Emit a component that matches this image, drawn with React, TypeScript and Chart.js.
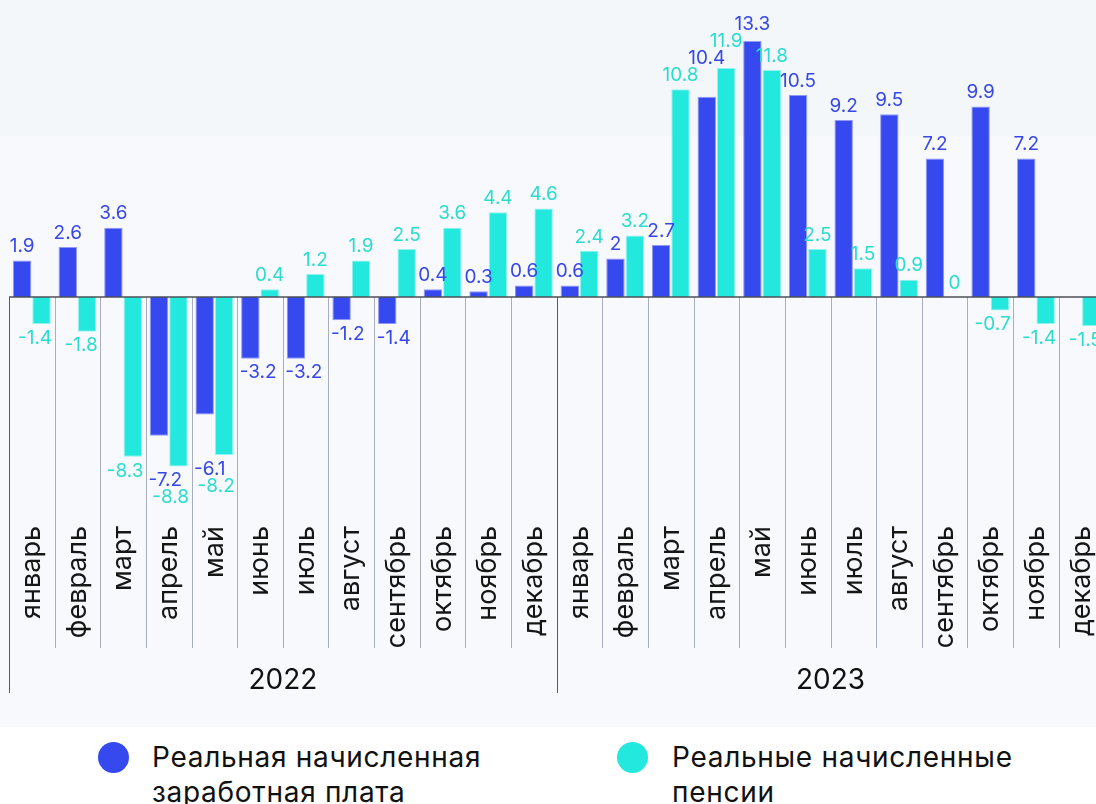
import React, { useEffect, useRef } from 'react';
import { Chart, registerables } from 'chart.js';

Chart.register(...registerables);

// ---- data ----
const months = ['январь', 'февраль', 'март', 'апрель', 'май', 'июнь', 'июль', 'август', 'сентябрь', 'октябрь', 'ноябрь', 'декабрь'];
const years = ['2022', '2023'];
const categories = [...months, ...months];
const wages: (number | null)[] = [1.9, 2.6, 3.6, -7.2, -6.1, -3.2, -3.2, -1.2, -1.4, 0.4, 0.3, 0.6, 0.6, 2, 2.7, 10.4, 13.3, 10.5, 9.2, 9.5, 7.2, 9.9, 7.2, null];
const pensions: (number | null)[] = [-1.4, -1.8, -8.3, -8.8, -8.2, 0.4, 1.2, 1.9, 2.5, 3.6, 4.4, 4.6, 2.4, 3.2, 10.8, 11.9, 11.8, 2.5, 1.5, 0.9, 0, -0.7, -1.4, -1.5];
const seriesNames = ['Реальная начисленная заработная плата', 'Реальные начисленные пенсии'];

// ---- styles ----
const BLUE = '#3549ef';
const CYAN = '#23e8dd';
const BLUE_TEXT = '#3747e6';
const CYAN_TEXT = '#2adccf';
const FONT = 'Inter, "Noto Sans", sans-serif';

const separatorsPlugin = {
  id: 'separators',
  beforeDatasetsDraw(chart: any) {
    const ctx = chart.ctx;
    const xs = chart.scales.x;
    const ys = chart.scales.y;
    const { bottom } = chart.chartArea;
    const y0 = Math.round(ys.getPixelForValue(0));
    const n = categories.length;
    const cw = (xs.right - xs.left) / n;
    ctx.save();
    for (let k = 0; k <= n; k++) {
      const xk = Math.round(xs.left + k * cw) + 0.5;
      const isYear = k % months.length === 0;
      ctx.beginPath();
      ctx.strokeStyle = isYear ? '#5a5d66' : '#a9adc2';
      ctx.lineWidth = 1;
      ctx.moveTo(xk, y0);
      ctx.lineTo(xk, bottom + (isYear ? 173 : 128));
      ctx.stroke();
    }
    // year labels
    ctx.fillStyle = '#111111';
    ctx.font = `28px ${FONT}`;
    ctx.textAlign = 'center';
    ctx.textBaseline = 'middle';
    years.forEach((yr, yi) => {
      const xa = xs.left + yi * months.length * cw;
      const xb = xa + months.length * cw;
      ctx.fillText(yr, (xa + xb) / 2, bottom + 161);
    });
    ctx.restore();
  },
  afterDatasetsDraw(chart: any) {
    const ctx = chart.ctx;
    const xs = chart.scales.x;
    const ys = chart.scales.y;
    const y0 = Math.round(ys.getPixelForValue(0));
    ctx.save();
    ctx.beginPath();
    ctx.strokeStyle = '#4d4f55';
    ctx.lineWidth = 1.6;
    ctx.moveTo(xs.left, y0);
    ctx.lineTo(chart.width, y0);
    ctx.stroke();
    ctx.restore();
  },
};

const valueLabelsPlugin = {
  id: 'valueLabels',
  afterDatasetsDraw(chart: any) {
    const ctx = chart.ctx;
    const xs = chart.scales.x;
    const n = categories.length;
    const cw = (xs.right - xs.left) / n;
    const OFF = 14;
    const LH = 17;
    const INSET = 4;
    const PAD = 2.5;
    ctx.save();
    ctx.font = `19px ${FONT}`;
    ctx.textAlign = 'center';
    ctx.textBaseline = 'middle';

    const bars: any[] = [];
    chart.data.datasets.forEach((ds: any, di: number) => {
      const meta = chart.getDatasetMeta(di);
      meta.data.forEach((el: any, i: number) => {
        if (ds.data[i] == null) return;
        const p = el.getProps(['x', 'y', 'base', 'width'], true);
        bars.push({ di, i, left: p.x - p.width / 2, right: p.x + p.width / 2, top: Math.min(p.y, p.base), bottom: Math.max(p.y, p.base) });
      });
    });

    const placed: any[] = [];
    for (let i = 0; i < n; i++) {
      chart.data.datasets.forEach((ds: any, di: number) => {
        const v = ds.data[i];
        if (v == null) return;
        const el = chart.getDatasetMeta(di).data[i];
        const p = el.getProps(['x', 'y', 'base'], true);
        const text = String(v);
        const w = ctx.measureText(text).width;
        const up = v >= 0;
        let cx = p.x;
        if (!up) {
          const cL = xs.left + i * cw + PAD;
          const cR = xs.left + (i + 1) * cw - PAD;
          if (cx - w / 2 < cL) cx = cL + w / 2;
          if (cx + w / 2 > cR) cx = cR - w / 2;
        }
        let cy = up ? Math.min(p.y, p.base) - OFF : Math.max(p.y, p.base) + OFF;
        for (let iter = 0; iter < 30; iter++) {
          let moved = false;
          for (const q of placed) {
            if (Math.abs(q.cx - cx) < (q.w + w) / 2 - 4 && Math.abs(q.cy - cy) < LH) {
              cy = up ? q.cy - LH : q.cy + LH;
              moved = true;
            }
          }
          if (!up) {
            for (const b of bars) {
              if (b.di === di && b.i === i) continue;
              if (cx - w / 2 + INSET < b.right && cx + w / 2 - INSET > b.left && cy - 7 < b.bottom && cy + 7 > b.top) {
                cy = b.bottom + OFF;
                moved = true;
              }
            }
          }
          if (!moved) break;
        }
        placed.push({ cx, cy, w });
        ctx.fillStyle = di === 0 ? BLUE_TEXT : CYAN_TEXT;
        ctx.fillText(text, cx, cy);
      });
    }
    ctx.restore();
  },
};

export default function App() {
  const canvasRef = useRef<HTMLCanvasElement | null>(null);

  useEffect(() => {
    const canvas = canvasRef.current;
    if (!canvas) return;
    const chart = new Chart(canvas, {
      type: 'bar',
      data: {
        labels: categories,
        datasets: [
          {
            label: seriesNames[0],
            data: wages,
            backgroundColor: BLUE,
            borderColor: '#8f98f4',
            borderWidth: 1,
            barPercentage: 0.95,
            categoryPercentage: 0.85,
          },
          {
            label: seriesNames[1],
            data: pensions,
            backgroundColor: CYAN,
            borderColor: '#93f2ec',
            borderWidth: 1,
            barPercentage: 0.95,
            categoryPercentage: 0.85,
          },
        ],
      },
      options: {
        responsive: false,
        animation: false,
        devicePixelRatio: 1,
        layout: { padding: { left: 9, top: 0, right: 0, bottom: 0 } },
        plugins: {
          legend: { display: false },
          tooltip: { enabled: false },
        },
        scales: {
          x: {
            grid: { display: false, drawTicks: false },
            border: { display: false },
            ticks: {
              autoSkip: false,
              minRotation: 90,
              maxRotation: 90,
              padding: 6,
              color: '#161616',
              font: { family: FONT, size: 27 },
            },
            afterFit: (scale: any) => {
              scale.height = 180;
            },
          },
          y: {
            display: false,
            min: -11.58,
            max: 15.43,
          },
        },
      },
      plugins: [separatorsPlugin, valueLabelsPlugin],
    });
    return () => chart.destroy();
  }, []);

  const legendText: React.CSSProperties = {
    position: 'absolute',
    top: 740,
    width: 400,
    fontFamily: FONT,
    fontSize: 28,
    letterSpacing: '0.7px',
    lineHeight: '35px',
    color: '#111111',
  };
  const dot: React.CSSProperties = {
    position: 'absolute',
    top: 741.5,
    width: 31,
    height: 31,
    borderRadius: '50%',
  };

  return (
    <div
      style={{
        position: 'absolute',
        left: 0,
        top: 0,
        width: 1096,
        height: 804,
        overflow: 'hidden',
        background: 'linear-gradient(to bottom, #f3f7fa 0px, #f3f7fa 136px, #f8f9fd 136px, #f8f9fd 727px, #ffffff 727px)',
      }}
    >
      <canvas ref={canvasRef} width={1120} height={700} style={{ position: 'absolute', left: 0, top: 0, display: 'block' }} />
      <div style={{ ...dot, left: 97.5, background: BLUE }} />
      <div style={{ ...legendText, left: 152 }}>{seriesNames[0]}</div>
      <div style={{ ...dot, left: 617, background: CYAN }} />
      <div style={{ ...legendText, left: 672 }}>{seriesNames[1]}</div>
    </div>
  );
}
